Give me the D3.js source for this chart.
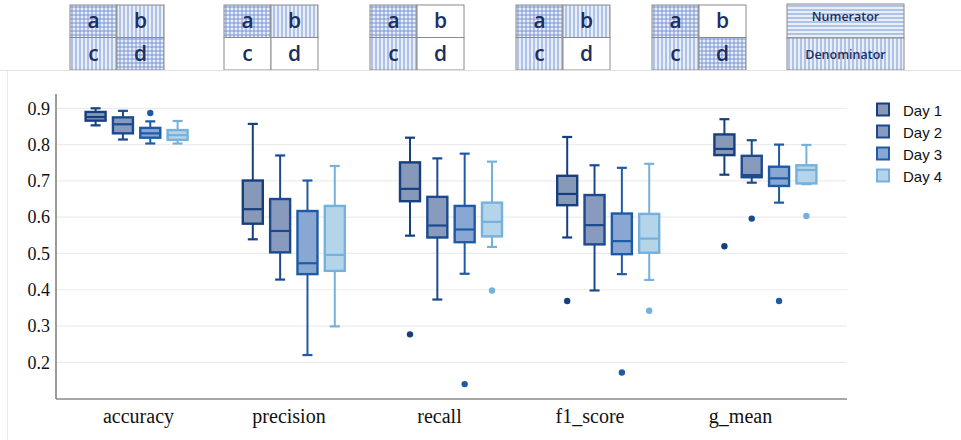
<!DOCTYPE html>
<html>
<head>
<meta charset="utf-8">
<script src="https://cdn.jsdelivr.net/npm/d3@7"></script>
<style>
  body { margin: 0; background: #fff; }
  svg { display: block; }
</style>
</head>
<body>
<script>
// ---- data ----
var metrics = ["accuracy", "precision", "recall", "f1_score", "g_mean"]
var days = ["Day 1", "Day 2", "Day 3", "Day 4"]
var yTicks = [0.2, 0.3, 0.4, 0.5, 0.6, 0.7, 0.8, 0.9]

// [whisker low, Q1, median, Q3, whisker high], one row per metric
var day1 = [
  [0.853, 0.866, 0.876, 0.890, 0.900],
  [0.539, 0.582, 0.622, 0.701, 0.857],
  [0.549, 0.644, 0.678, 0.751, 0.819],
  [0.544, 0.633, 0.664, 0.714, 0.821],
  [0.717, 0.771, 0.788, 0.828, 0.870]
]
var day2 = [
  [0.814, 0.831, 0.856, 0.875, 0.893],
  [0.428, 0.503, 0.562, 0.650, 0.770],
  [0.373, 0.544, 0.577, 0.656, 0.762],
  [0.398, 0.525, 0.578, 0.661, 0.743],
  [0.695, 0.710, 0.716, 0.769, 0.812]
]
var day3 = [
  [0.803, 0.819, 0.831, 0.846, 0.864],
  [0.220, 0.443, 0.473, 0.617, 0.701],
  [0.444, 0.531, 0.566, 0.631, 0.775],
  [0.443, 0.498, 0.534, 0.610, 0.736],
  [0.640, 0.686, 0.707, 0.739, 0.800]
]
var day4 = [
  [0.803, 0.813, 0.826, 0.840, 0.865],
  [0.299, 0.452, 0.496, 0.631, 0.741],
  [0.518, 0.547, 0.587, 0.640, 0.753],
  [0.427, 0.502, 0.541, 0.609, 0.747],
  [0.691, 0.693, 0.730, 0.743, 0.799]
]
// outliers, one list per metric
var out1 = [[], [], [0.277], [0.369], [0.520]]
var out2 = [[], [], [], [], [0.596]]
var out3 = [[0.887], [], [0.140], [0.172], [0.369]]
var out4 = [[], [], [0.398], [0.342], [0.603]]

// confusion-matrix icons: cells a, b, c, d
var iconCells = [
  ["grid", "vert", "vert", "grid"],
  ["grid", "vert", "none", "none"],
  ["grid", "none", "vert", "none"],
  ["grid", "vert", "vert", "none"],
  ["grid", "none", "vert", "grid"]
]
var cellLetters = ["a", "b", "c", "d"]

var stats = [day1, day2, day3, day4]
var outs = [out1, out2, out3, out4]
var fills = ["#8799b9", "#889bbf", "#88a8d3", "#b4d4ea"]
var strokes = ["#183f7d", "#1b4a8e", "#1e5ba6", "#76b1dc"]

// ---- layout ----
var width = 961, height = 440
var svg = d3.select("body").append("svg").attr("width", width).attr("height", height)

var defs = svg.append("defs")
function makePattern(id, vert, horiz) {
  var p = defs.append("pattern").attr("id", id)
    .attr("patternUnits", "userSpaceOnUse").attr("width", 4).attr("height", 4)
  p.append("rect").attr("width", 4).attr("height", 4).attr("fill", "#e9eff9")
  if (vert) p.append("line").attr("x1", 2).attr("x2", 2).attr("y1", 0).attr("y2", 4)
    .attr("stroke", "#7895d6").attr("stroke-width", 1)
  if (horiz) p.append("line").attr("x1", 0).attr("x2", 4).attr("y1", 2).attr("y2", 2)
    .attr("stroke", "#7895d6").attr("stroke-width", 1)
}
makePattern("vert", true, false)
makePattern("horiz", false, true)
makePattern("grid", true, true)

// icons row
var iconX = [70, 224, 370, 516, 652]
var iconW = 94, iconTop = 5, iconH = 65
iconCells.forEach(function(cells, i) {
  var g = svg.append("g").attr("transform", "translate(" + iconX[i] + "," + iconTop + ")")
  cells.forEach(function(c, j) {
    var cx = (j % 2) * iconW / 2, cy = Math.floor(j / 2) * iconH / 2
    g.append("rect").attr("x", cx).attr("y", cy).attr("width", iconW / 2).attr("height", iconH / 2)
      .attr("fill", c == "none" ? "#fff" : "url(#" + c + ")")
      .attr("stroke", "#8a8a8a").attr("stroke-width", 1)
    g.append("text").attr("x", cx + iconW / 4).attr("y", cy + iconH / 4 + 7)
      .attr("text-anchor", "middle").attr("font-family", "Open Sans, sans-serif")
      .attr("font-size", 21).attr("font-weight", 600).attr("fill", "#1b2f62")
      .text(cellLetters[j])
  })
})
// numerator / denominator key
var kg = svg.append("g").attr("transform", "translate(787,4)")
kg.append("rect").attr("width", 117).attr("height", 34).attr("fill", "url(#horiz)")
  .attr("stroke", "#8a8a8a")
kg.append("rect").attr("y", 34).attr("width", 117).attr("height", 32).attr("fill", "url(#vert)")
  .attr("stroke", "#8a8a8a")
kg.append("text").attr("x", 58.5).attr("y", 17).attr("text-anchor", "middle")
  .attr("font-family", "Open Sans, sans-serif").attr("font-size", 12.5).attr("font-weight", 600)
  .attr("fill", "#1b2f62").text("Numerator")
kg.append("text").attr("x", 58.5).attr("y", 55).attr("text-anchor", "middle")
  .attr("font-family", "Open Sans, sans-serif").attr("font-size", 12.5).attr("font-weight", 600)
  .attr("fill", "#1b2f62").text("Denominator")

// panel border
svg.append("line").attr("x1", 0).attr("x2", width).attr("y1", 70.5).attr("y2", 70.5)
  .attr("stroke", "#e2e2e2")
svg.append("line").attr("x1", 7.5).attr("x2", 7.5).attr("y1", 71).attr("y2", height)
  .attr("stroke", "#ececec")

// scales
var plotL = 56, plotR = 847
var y = d3.scaleLinear().domain([0.1, 0.9]).range([398.6, 108.3])
var x = d3.scaleBand().domain(metrics).range([58, 844])
var xi = d3.scalePoint().domain(days).range([-41, 41])
var xl = d3.scalePoint().domain(metrics).range([138, 740])

// grid
svg.append("g").selectAll("line").data(yTicks).join("line")
  .attr("x1", plotL).attr("x2", plotR)
  .attr("y1", function(d) { return y(d) }).attr("y2", function(d) { return y(d) })
  .attr("stroke", "#ececec").attr("stroke-width", 1.2)

// axes
var yAxis = svg.append("g").attr("transform", "translate(" + plotL + ",0)")
  .call(d3.axisLeft(y).tickValues(yTicks).tickSize(0).tickPadding(6).tickFormat(d3.format(".1f")))
yAxis.select(".domain").remove()
yAxis.selectAll("text").attr("font-family", "Liberation Serif, Times New Roman, serif")
  .attr("font-size", 18).attr("fill", "#111")
svg.append("line").attr("x1", plotL).attr("x2", plotL).attr("y1", 94).attr("y2", 399)
  .attr("stroke", "#7a7a7a").attr("stroke-width", 1.5)
svg.append("line").attr("x1", plotL).attr("x2", plotR).attr("y1", 399).attr("y2", 399)
  .attr("stroke", "#8a8a8a").attr("stroke-width", 1.5)

var xAxis = svg.append("g").attr("transform", "translate(0,400)")
  .call(d3.axisBottom(xl).tickSize(0).tickPadding(9))
xAxis.select(".domain").remove()
xAxis.selectAll("text").attr("font-family", "Liberation Serif, Times New Roman, serif")
  .attr("font-size", 20).attr("fill", "#111")

// boxes
var boxW = 20, capW = 10
days.forEach(function(day, di) {
  var g = svg.append("g")
  metrics.forEach(function(m, mi) {
    var s = stats[di][mi]
    var cx = x(m) + x.bandwidth() / 2 + xi(day)
    g.append("line").attr("x1", cx).attr("x2", cx).attr("y1", y(s[0])).attr("y2", y(s[4]))
      .attr("stroke", strokes[di]).attr("stroke-width", 2)
    ;[s[0], s[4]].forEach(function(v) {
      g.append("line").attr("x1", cx - capW / 2).attr("x2", cx + capW / 2)
        .attr("y1", y(v)).attr("y2", y(v))
        .attr("stroke", strokes[di]).attr("stroke-width", 2.2)
    })
    g.append("rect").attr("x", cx - boxW / 2).attr("width", boxW)
      .attr("y", y(s[3])).attr("height", y(s[1]) - y(s[3]))
      .attr("fill", fills[di]).attr("stroke", strokes[di]).attr("stroke-width", 2.4)
    g.append("line").attr("x1", cx - boxW / 2).attr("x2", cx + boxW / 2)
      .attr("y1", y(s[2])).attr("y2", y(s[2]))
      .attr("stroke", strokes[di]).attr("stroke-width", 2.2)
    g.selectAll(null).data(outs[di][mi]).join("circle")
      .attr("cx", cx).attr("cy", function(d) { return y(d) }).attr("r", 3.2)
      .attr("fill", strokes[di])
  })
})

// legend
var leg = svg.append("g").attr("transform", "translate(876,0)")
days.forEach(function(day, di) {
  var ly = 110 + di * 22
  leg.append("rect").attr("x", 1).attr("y", ly - 6.5).attr("width", 12).attr("height", 12)
    .attr("fill", fills[di]).attr("stroke", strokes[di]).attr("stroke-width", 2)
  leg.append("text").attr("x", 27).attr("y", ly + 5.5)
    .attr("font-family", "Liberation Sans, Arial, sans-serif").attr("font-size", 15)
    .attr("fill", "#111").text(day)
})
</script>
</body>
</html>
